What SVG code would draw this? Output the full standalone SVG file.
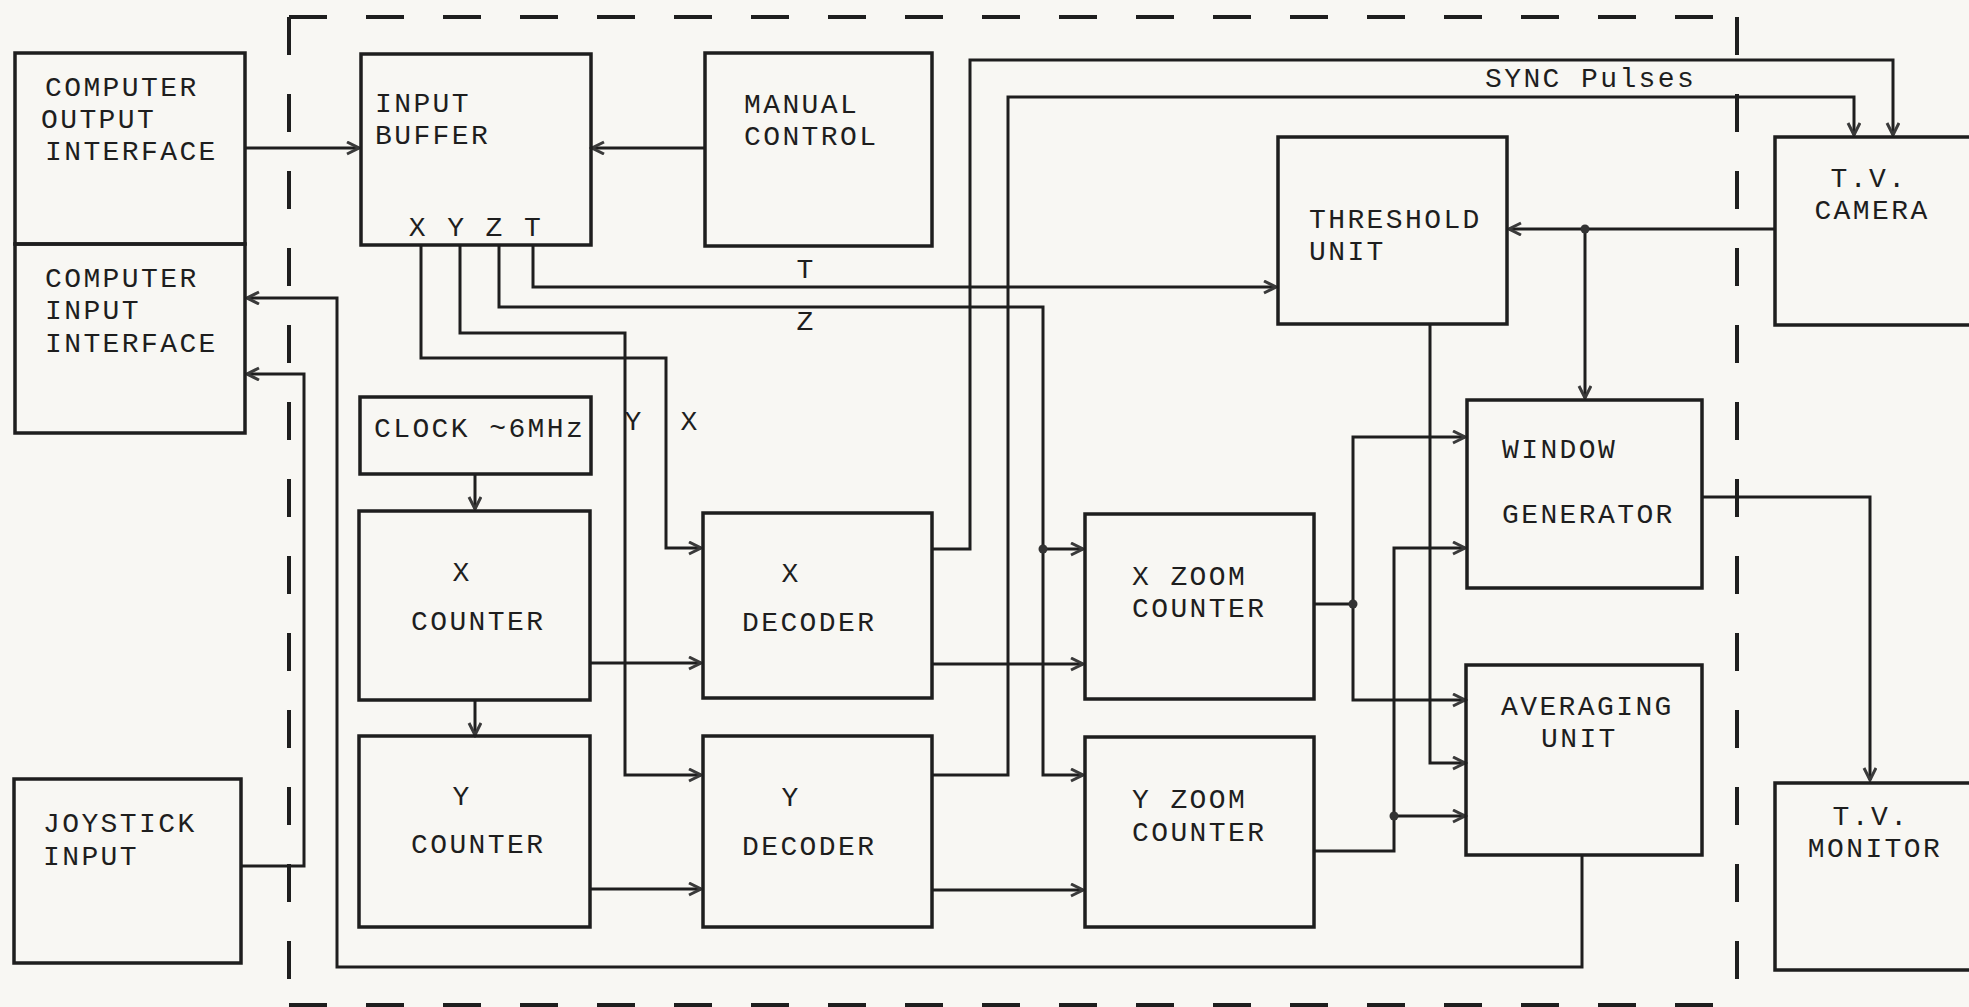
<svg xmlns="http://www.w3.org/2000/svg" width="1969" height="1007" viewBox="0 0 1969 1007">
<defs>
<style>
.box{fill:none;stroke:#1e1e1e;stroke-width:3.5}
.t{font-family:"Liberation Mono","Courier New",monospace;font-size:28px;letter-spacing:2.4px;fill:#1e1e1e}
.c{fill:none;stroke:#1e1e1e;stroke-width:3;stroke-linejoin:miter}
.a{marker-end:url(#arr)}
.dash{fill:none;stroke:#1e1e1e;stroke-width:4;stroke-dasharray:38 39}
.dot{fill:#333}
</style>
<marker id="arr" markerUnits="userSpaceOnUse" markerWidth="16" markerHeight="16" refX="13" refY="7" orient="auto">
<path d="M1,1 L13,7 L1,13" fill="none" stroke="#3a3a3a" stroke-width="3"/>
</marker>
</defs>
<rect width="1969" height="1007" fill="#f8f7f3"/>

<g id="boundary">
<line class="dash" x1="289" y1="17" x2="1737" y2="17"/>
<line class="dash" x1="289" y1="17" x2="289" y2="1005"/>
<line class="dash" x1="1737" y1="17" x2="1737" y2="1005"/>
<line class="dash" x1="289" y1="1005" x2="1737" y2="1005"/>
</g>

<g id="connectors">
<path class="c a" d="M245,148 H359"/>
<path class="c a" d="M704,148 H592"/>
<path class="c a" d="M533,245 V287 H1276"/>
<path class="c a" d="M499,245 V307 H1043 V775 H1083"/>
<path class="c a" d="M1043,549 H1083"/>
<path class="c a" d="M460,245 V333 H625 V775 H701"/>
<path class="c a" d="M421,245 V358 H666 V548 H701"/>
<path class="c a" d="M475,474 V509"/>
<path class="c a" d="M475,700 V735"/>
<path class="c a" d="M590,663 H701"/>
<path class="c a" d="M590,889 H701"/>
<path class="c a" d="M932,664 H1083"/>
<path class="c a" d="M932,890 H1083"/>
<path class="c a" d="M932,549 H970 V60 H1893 V135"/>
<path class="c a" d="M932,775 H1008 V97 H1854 V135"/>
<path class="c a" d="M1774,229 H1509"/>
<path class="c a" d="M1585,229 V398"/>
<path class="c a" d="M1430,325 V763 H1465"/>
<path class="c" d="M1313,604 H1353"/>
<path class="c a" d="M1353,604 V437 H1465"/>
<path class="c a" d="M1353,604 V700 H1465"/>
<path class="c a" d="M1313,851 H1394 V548 H1465"/>
<path class="c a" d="M1394,816 H1465"/>
<path class="c a" d="M1702,497 H1870 V780"/>
<path class="c a" d="M1582,856 V967 H337 V298 H247"/>
<path class="c a" d="M241,866 H304 V374 H247"/>
<circle class="dot" cx="1043" cy="549" r="4.5"/>
<circle class="dot" cx="1585" cy="229" r="4.5"/>
<circle class="dot" cx="1353" cy="604" r="4.5"/>
<circle class="dot" cx="1394" cy="816" r="4.5"/>
<text class="t" x="806" y="278" text-anchor="middle">T</text>
<text class="t" x="806" y="330" text-anchor="middle">Z</text>
<text class="t" x="634" y="430" text-anchor="middle">Y</text>
<text class="t" x="690" y="430" text-anchor="middle">X</text>
<text class="t" x="1485" y="87">SYNC Pulses</text>
</g>

<g id="computer-output">
<rect class="box" x="15" y="53" width="230" height="191"/>
<text class="t" x="45" y="96">COMPUTER</text>
<text class="t" x="41" y="128">OUTPUT</text>
<text class="t" x="45" y="160">INTERFACE</text>
</g>
<g id="computer-input">
<rect class="box" x="15" y="244" width="230" height="189"/>
<text class="t" x="45" y="287">COMPUTER</text>
<text class="t" x="45" y="319">INPUT</text>
<text class="t" x="45" y="352">INTERFACE</text>
</g>
<g id="joystick">
<rect class="box" x="14" y="779" width="227" height="184"/>
<text class="t" x="43" y="832">JOYSTICK</text>
<text class="t" x="43" y="865">INPUT</text>
</g>
<g id="input-buffer">
<rect class="box" x="361" y="54" width="230" height="191"/>
<text class="t" x="375" y="112">INPUT</text>
<text class="t" x="375" y="144">BUFFER</text>
<text class="t" x="476" y="236" text-anchor="middle">X Y Z T</text>
</g>
<g id="manual-control">
<rect class="box" x="705" y="53" width="227" height="193"/>
<text class="t" x="744" y="113">MANUAL</text>
<text class="t" x="744" y="145">CONTROL</text>
</g>
<g id="clock">
<rect class="box" x="360" y="397" width="231" height="77"/>
<text class="t" x="374" y="437">CLOCK ~6MHz</text>
</g>
<g id="x-counter">
<rect class="box" x="359" y="511" width="231" height="189"/>
<text class="t" x="462" y="581" text-anchor="middle">X</text>
<text class="t" x="411" y="630">COUNTER</text>
</g>
<g id="y-counter">
<rect class="box" x="359" y="736" width="231" height="191"/>
<text class="t" x="462" y="805" text-anchor="middle">Y</text>
<text class="t" x="411" y="853">COUNTER</text>
</g>
<g id="x-decoder">
<rect class="box" x="703" y="513" width="229" height="185"/>
<text class="t" x="791" y="582" text-anchor="middle">X</text>
<text class="t" x="742" y="631">DECODER</text>
</g>
<g id="y-decoder">
<rect class="box" x="703" y="736" width="229" height="191"/>
<text class="t" x="791" y="806" text-anchor="middle">Y</text>
<text class="t" x="742" y="855">DECODER</text>
</g>
<g id="x-zoom-counter">
<rect class="box" x="1085" y="514" width="229" height="185"/>
<text class="t" x="1132" y="585">X ZOOM</text>
<text class="t" x="1132" y="617">COUNTER</text>
</g>
<g id="y-zoom-counter">
<rect class="box" x="1085" y="737" width="229" height="190"/>
<text class="t" x="1132" y="808">Y ZOOM</text>
<text class="t" x="1132" y="841">COUNTER</text>
</g>
<g id="threshold-unit">
<rect class="box" x="1278" y="137" width="229" height="187"/>
<text class="t" x="1309" y="228">THRESHOLD</text>
<text class="t" x="1309" y="260">UNIT</text>
</g>
<g id="window-generator">
<rect class="box" x="1467" y="400" width="235" height="188"/>
<text class="t" x="1502" y="458">WINDOW</text>
<text class="t" x="1502" y="523">GENERATOR</text>
</g>
<g id="averaging-unit">
<rect class="box" x="1466" y="665" width="236" height="190"/>
<text class="t" x="1501" y="715">AVERAGING</text>
<text class="t" x="1541" y="747">UNIT</text>
</g>
<g id="tv-camera">
<rect class="box" x="1775" y="137" width="200" height="188"/>
<text class="t" x="1869" y="187" text-anchor="middle">T.V.</text>
<text class="t" x="1872" y="219" text-anchor="middle">CAMERA</text>
</g>
<g id="tv-monitor">
<rect class="box" x="1775" y="783" width="200" height="187"/>
<text class="t" x="1871" y="825" text-anchor="middle">T.V.</text>
<text class="t" x="1875" y="857" text-anchor="middle">MONITOR</text>
</g>
</svg>
